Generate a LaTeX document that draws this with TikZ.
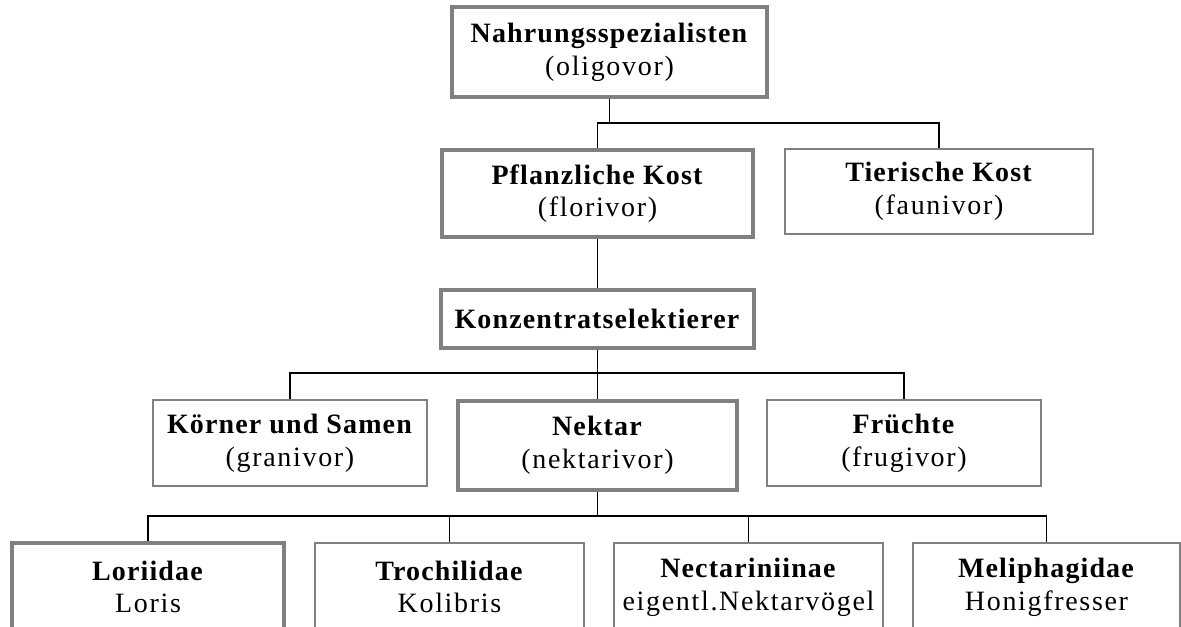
\documentclass[tikz,border=0pt]{standalone}
\usepackage{fontspec}
\setmainfont{Liberation Serif}[LetterSpace=6,BoldFeatures={LetterSpace=4}]
\newcommand\px{0.75pt}
\definecolor{boxgray}{HTML}{808080}
\begin{document}
\begin{tikzpicture}[x=0.75pt,y=-0.75pt,
  box/.style={draw=boxgray,fill=white,align=center,inner sep=0pt,
    font=\fontsize{21}{24.5}\selectfont},
  thickbox/.style={box,line width=3pt},
  thinbox/.style={box,line width=1.5pt},
  conn/.style={draw=black,line width=1.3pt}]
\useasboundingbox (0,0) rectangle (1181,627);
\clip (0,0) rectangle (1181,627);
% level 0
\node[thickbox,minimum width=315*\px,minimum height=90*\px] (nahr) at (609.5,52)
  {\textbf{Nahrungsspezialisten}\\(oligovor)};
% level 1
\node[thickbox,minimum width=311*\px,minimum height=87*\px] (pflanz) at (597.5,193.5)
  {\textbf{Pflanzliche Kost}\\(florivor)};
\node[thinbox,minimum width=308*\px,minimum height=85*\px] (tier) at (939,191.5)
  {\textbf{Tierische Kost}\\(faunivor)};
% level 2
\node[thickbox,minimum width=313*\px,minimum height=58*\px] (konz) at (597.5,319)
  {\textbf{Konzentratselektierer}};
% level 3
\node[thinbox,minimum width=274*\px,minimum height=86*\px] (koerner) at (290,443)
  {\textbf{Körner und Samen}\\(granivor)};
\node[thickbox,minimum width=279*\px,minimum height=89*\px] (nektar) at (597.5,445.5)
  {\textbf{Nektar}\\(nektarivor)};
\node[thinbox,minimum width=274*\px,minimum height=86*\px] (frucht) at (904,443)
  {\textbf{Früchte}\\(frugivor)};
% level 4
\node[thickbox,minimum width=272*\px,minimum height=88*\px] (lori) at (148,587)
  {\textbf{Loriidae}\\Loris};
\node[thinbox,minimum width=269*\px,minimum height=88*\px] (troch) at (449.5,587)
  {\textbf{Trochilidae}\\Kolibris};
\node[thinbox,minimum width=269*\px,minimum height=88*\px] (nect) at (748.5,587)
  {\textbf{Nectariniinae}\\eigentl.Nektarvögel};
\node[thinbox,minimum width=267*\px,minimum height=88*\px] (meli) at (1046.5,587)
  {\textbf{Meliphagidae}\\Honigfresser};
% bus coordinates
\coordinate (b1) at (0,123);
\coordinate (b2) at (0,373);
\coordinate (b3) at (0,516);
% connectors
\draw[conn] (nahr.south) -- (nahr.south |- b1);
\draw[conn] (pflanz.north) |- (tier.north |- b1) -- (tier.north);
\draw[conn] (pflanz.south) -- (konz.north);
\draw[conn] (konz.south) -- (nektar.north);
\draw[conn] (koerner.north) |- (frucht.north |- b2) -- (frucht.north);
\draw[conn] (nektar.south) -- (nektar.south |- b3);
\draw[conn] (lori.north) |- (meli.north |- b3) -- (meli.north);
\draw[conn] (troch.north) -- (troch.north |- b3);
\draw[conn] (nect.north) -- (nect.north |- b3);
\end{tikzpicture}
\end{document}
